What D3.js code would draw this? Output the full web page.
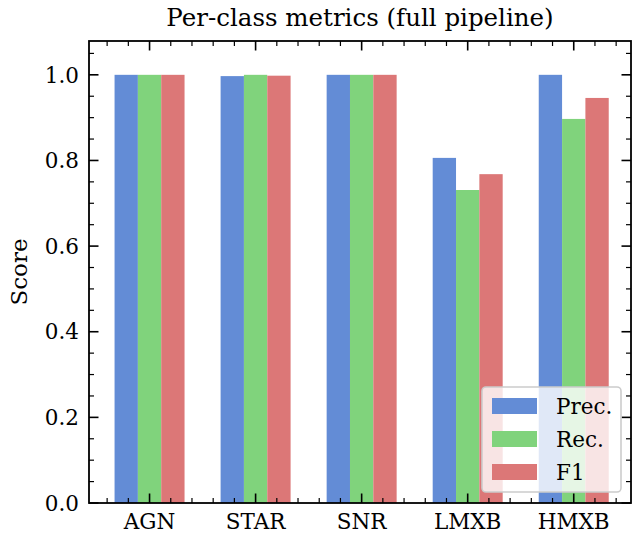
<!DOCTYPE html>
<html>
<head>
<meta charset="utf-8">
<script src="https://cdn.jsdelivr.net/npm/d3@7"></script>
<style>
  html, body { margin: 0; padding: 0; background: #fff; }
  svg { display: block; font-family: "DejaVu Serif", serif; }
</style>
</head>
<body>
<svg id="chart" width="632" height="533"></svg>
<script>
// Per-class classification scores
const classes = ["AGN", "STAR", "SNR", "LMXB", "HMXB"];
const precision = [1.000, 0.997, 1.000, 0.806, 1.000];
const recall    = [1.000, 1.000, 1.000, 0.731, 0.897];
const f1        = [1.000, 0.998, 1.000, 0.768, 0.946];
const seriesNames = ["Prec.", "Rec.", "F1"];
const seriesColors = ["#638cd6", "#80d37c", "#dc7777"];
const yTicks = [0.0, 0.2, 0.4, 0.6, 0.8, 1.0];

const series = [precision, recall, f1];
const svg = d3.select("#chart");
const m = { left: 89, right: 631, top: 41, bottom: 503 };
const barW = 0.22;
const fs = 21.5;

// category index -> pixels (with margins around the bars)
const x = d3.scaleLinear().domain([-0.571, 4.54]).range([m.left, m.right]);
const y = d3.scaleLinear().domain([0, 1.079]).range([m.bottom, m.top]);

// bars
series.forEach((vals, s) => {
  svg.append("g").selectAll("rect").data(vals).join("rect")
    .attr("x", (d, i) => x(i + (s - 1) * barW - barW / 2))
    .attr("width", x(barW) - x(0))
    .attr("y", d => y(d))
    .attr("height", d => y(0) - y(d))
    .attr("fill", seriesColors[s]);
});

// ticks pointing inwards on all four sides
const tickG = svg.append("g").attr("stroke", "#000");
const xMinor = d3.range(-0.4, 4.5, 0.2).filter(v => Math.abs(v - Math.round(v)) > 1e-6);
const xMajor = d3.range(0, classes.length);
const yMinor = d3.range(0, 1.076, 0.05).filter(v => Math.abs(v * 5 - Math.round(v * 5)) > 1e-6);

function vTicks(vals, len, w) {
  vals.forEach(v => {
    const px = x(v);
    tickG.append("line").attr("x1", px).attr("x2", px).attr("y1", m.bottom).attr("y2", m.bottom - len).attr("stroke-width", w);
    tickG.append("line").attr("x1", px).attr("x2", px).attr("y1", m.top).attr("y2", m.top + len).attr("stroke-width", w);
  });
}
function hTicks(vals, len, w) {
  vals.forEach(v => {
    const py = y(v);
    tickG.append("line").attr("y1", py).attr("y2", py).attr("x1", m.left).attr("x2", m.left + len).attr("stroke-width", w);
    tickG.append("line").attr("y1", py).attr("y2", py).attr("x1", m.right).attr("x2", m.right - len).attr("stroke-width", w);
  });
}
vTicks(xMinor, 5, 1.2);
vTicks(xMajor, 9.5, 1.6);
hTicks(yMinor, 5, 1.2);
hTicks(yTicks, 9.5, 1.6);

// frame
svg.append("rect")
  .attr("x", m.left).attr("y", m.top)
  .attr("width", m.right - m.left).attr("height", m.bottom - m.top)
  .attr("fill", "none").attr("stroke", "#000").attr("stroke-width", 1.8);

// tick labels
svg.append("g").selectAll("text").data(yTicks).join("text")
  .attr("x", 79).attr("y", d => y(d)).attr("dy", "0.36em")
  .attr("text-anchor", "end").attr("font-size", fs).attr("fill", "#000")
  .text(d => d.toFixed(1));
svg.append("g").selectAll("text").data(classes).join("text")
  .attr("x", (d, i) => x(i)).attr("y", 529)
  .attr("text-anchor", "middle").attr("font-size", fs).attr("fill", "#000")
  .text(d => d);

// axis title and chart title
svg.append("text")
  .attr("transform", `translate(27,${(m.top + m.bottom) / 2}) rotate(-90)`)
  .attr("text-anchor", "middle").attr("font-size", 23).attr("fill", "#000")
  .text("Score");
svg.append("text")
  .attr("x", (m.left + m.right) / 2).attr("y", 26)
  .attr("text-anchor", "middle").attr("font-size", 24.5).attr("fill", "#000")
  .text("Per-class metrics (full pipeline)");

// legend
const lg = svg.append("g");
lg.append("rect")
  .attr("x", 482).attr("y", 387).attr("width", 139).attr("height", 105)
  .attr("rx", 4).attr("fill", "#fff").attr("fill-opacity", 0.8)
  .attr("stroke", "#cccccc").attr("stroke-width", 1.6);
seriesNames.forEach((name, i) => {
  const cy = 406 + i * 33;
  lg.append("rect").attr("x", 492).attr("y", cy - 8).attr("width", 45).attr("height", 16)
    .attr("fill", seriesColors[i]);
  lg.append("text").attr("x", 556).attr("y", cy).attr("dy", "0.36em")
    .attr("font-size", fs).attr("fill", "#000").text(name);
});
</script>
</body>
</html>
